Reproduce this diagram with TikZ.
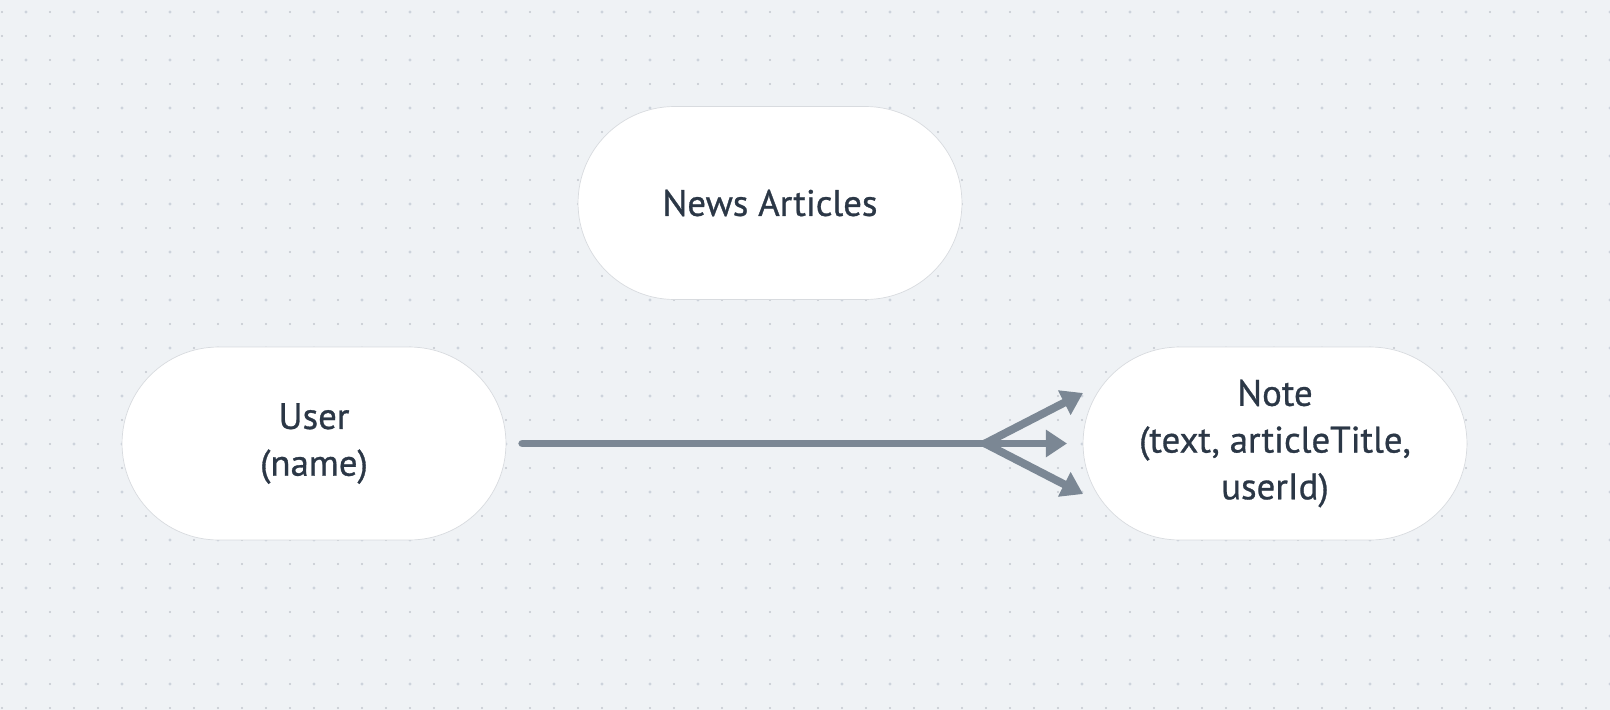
\documentclass[tikz,border=0pt]{standalone}
\usepackage{fontspec}
\setmainfont{PT Sans}
\newfontfamily\labelfont{PT Sans}[RawFeature={embolden=0.8}]
\usepackage{tikz}
\usetikzlibrary{arrows.meta, positioning, shapes.misc}
\usepackage{xcolor}
\definecolor{canvas}{HTML}{EFF2F5}
\definecolor{griddot}{HTML}{C2C7CE}
\definecolor{bigdot}{HTML}{CDD3DC}
\definecolor{edgegray}{HTML}{D8DBDF}
\definecolor{linkgray}{HTML}{7B8794}
\definecolor{inkdark}{HTML}{2B3746}

\begin{document}
\begin{tikzpicture}[
    x=0.02cm, y=-0.02cm,
    entity/.style={rounded rectangle, draw=edgegray, line width=0.4pt, fill=white,
      minimum width=7.68cm, minimum height=3.86cm, inner xsep=0pt, align=center, text=inkdark,
      font=\labelfont\fontsize{21}{26.6}\selectfont},
    link/.style={draw=linkgray, line width=4.5pt, line cap=round},
    fan/.style={link, -{Triangle[length=12pt, width=15pt]}}
]
% canvas and dot grid
\useasboundingbox (0,0) rectangle (1610,710);
\fill[canvas] (0,0) rectangle (1610,710);
\foreach \i in {0,...,66}
  \foreach \j in {0,...,29}
    \fill[griddot] (2+24*\i, 12+24*\j) circle (0.6pt);
\foreach \i in {0,...,33}
  \foreach \j in {0,...,14}
    \fill[bigdot] (26+48*\i, 12+48*\j) circle (0.95pt);

% entities
\node[entity] (news) at (770,203) {News Articles};
\node[entity] (user) at (314,443.5) {User\\(name)};
\node[entity] (note) at (1275,443.5) {Note\\(text, articleTitle,\\userId)};

% one-to-many link
\coordinate (fork) at (985,443.5);
\coordinate (tipup) at (1083,393);
\coordinate (tipmid) at (1067,443.5);
\coordinate (tipdown) at (1083,494);
\draw[link] ([xshift=16*0.02cm]user.east) -- (fork);
\draw[fan] (fork) -- (tipup);
\draw[fan] (fork) -- (tipmid);
\draw[fan] (fork) -- (tipdown);
\end{tikzpicture}
\end{document}
